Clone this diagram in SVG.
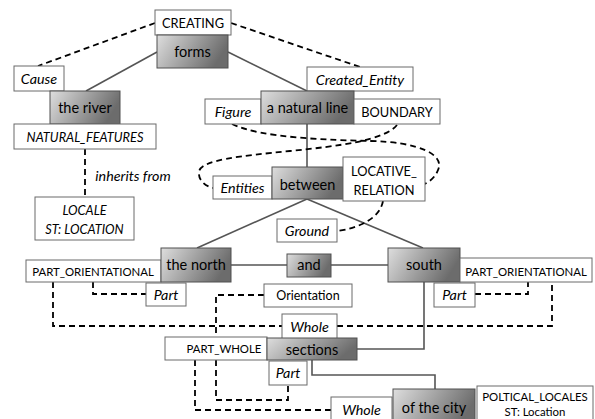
<svg xmlns="http://www.w3.org/2000/svg" width="595" height="419" viewBox="0 0 595 419">
<defs>
<linearGradient id="gr" x1="0" y1="0" x2="1" y2="0.3">
<stop offset="0" stop-color="#dedede"/>
<stop offset="1" stop-color="#6c6c6c"/>
</linearGradient>
</defs>
<style>
.w{fill:#fff;stroke:#6a6a6a;stroke-width:1}
.g{fill:url(#gr);stroke:#505050;stroke-width:1}
.s{fill:none;stroke:#555;stroke-width:1.6}
.d{fill:none;stroke:#000;stroke-width:1.8;stroke-dasharray:6,4}
text{font-family:Lato,"Open Sans","Liberation Sans",sans-serif;font-size:13.5px;fill:#000;text-anchor:middle}
.i{font-style:italic;font-size:14.3px}
.c{font-size:12.8px}
.sm{font-size:12.5px}
.sc{font-size:11.4px}
.n{font-size:14.5px}
</style>
<rect width="595" height="419" fill="#fff"/>
<g id="connectors">
<line class="s" x1="157" y1="52" x2="86" y2="91"/>
<line class="s" x1="228" y1="52" x2="307" y2="91"/>
<line class="s" x1="307" y1="124" x2="307" y2="167"/>
<line class="s" x1="307" y1="199" x2="197" y2="248"/>
<line class="s" x1="307" y1="199" x2="423" y2="248"/>
<line class="s" x1="231" y1="265" x2="287" y2="265"/>
<line class="s" x1="331" y1="265" x2="388" y2="265"/>
<polyline class="s" points="424,282 424,349 357,349"/>
<polyline class="s" points="312,360 312,375 435,375 435,389"/>
<line class="d" x1="155" y1="23" x2="38" y2="66"/>
<line class="d" x1="231" y1="23" x2="360" y2="67"/>
<line class="d" x1="85" y1="149" x2="85" y2="197"/>
<path class="d" d="M232,124 C260,138 330,140 370,141 C420,142 445,155 438,170 C435,178 428,183 424,184"/>
<path class="d" d="M397,125 C385,140 340,146 290,151 C240,156 200,160 199,172 C198,180 205,186 213,188"/>
<path class="d" d="M383,201 C380,218 360,228 337,231"/>
<polyline class="d" points="93,282 93,294 146,294"/>
<polyline class="d" points="53,282 53,326 282,326"/>
<polyline class="d" points="337,326 552,326 552,282"/>
<polyline class="d" points="475,294 528,294 528,282"/>
<polyline class="d" points="264,295 216,295 216,337"/>
<polyline class="d" points="216,360 216,400 288,400 288,385"/>
<polyline class="d" points="195,360 195,410 331,410"/>
</g>
<g id="creating"><rect class="w" x="155" y="10" width="76" height="25"/><text class="c" x="193" y="28">CREATING</text></g>
<g id="forms"><rect class="g" x="157" y="35" width="71" height="33"/><text class="n" x="192.5" y="57">forms</text></g>
<g id="cause"><rect class="w" x="14" y="66" width="50" height="25"/><text class="i" x="39" y="84">Cause</text></g>
<g id="river"><rect class="g" x="50" y="91" width="70" height="33"/><text class="n" x="85" y="113">the river</text></g>
<g id="natural-features"><rect class="w" x="14" y="124" width="142" height="25"/><text class="i c" x="85" y="142">NATURAL_FEATURES</text></g>
<text class="i" x="133" y="181">inherits from</text>
<g id="locale"><rect class="w" x="35" y="197" width="99" height="43"/><text class="i c" x="84.5" y="215">LOCALE</text><text class="i c" x="84.5" y="234">ST: LOCATION</text></g>
<g id="created-entity"><rect class="w" x="307" y="67" width="106" height="24"/><text class="i" x="360" y="85">Created_Entity</text></g>
<g id="figure"><rect class="w" x="205" y="99" width="56" height="25"/><text class="i" x="233" y="117">Figure</text></g>
<g id="natural-line"><rect class="g" x="261" y="91" width="93" height="33"/><text class="n" x="307.5" y="113">a natural line</text></g>
<g id="boundary"><rect class="w" x="354" y="99" width="86" height="25"/><text class="c" x="397" y="117">BOUNDARY</text></g>
<g id="entities"><rect class="w" x="213" y="176" width="59" height="23"/><text class="i" x="242.5" y="193">Entities</text></g>
<g id="between"><rect class="g" x="272" y="167" width="71" height="32"/><text class="n" x="307.5" y="190">between</text></g>
<g id="locative-relation"><rect class="w" x="343" y="157" width="82" height="44"/><text class="c" x="384" y="176">LOCATIVE_</text><text class="c" x="384" y="195">RELATION</text></g>
<g id="ground"><rect class="w" x="277" y="219" width="60" height="23"/><text class="i" x="307" y="236">Ground</text></g>
<g id="po-left"><rect class="w" x="26" y="260" width="135" height="22"/><text class="sc" x="93" y="276">PART_ORIENTATIONAL</text></g>
<g id="north"><rect class="g" x="161" y="248" width="70" height="34"/><text class="n" x="196" y="270">the north</text></g>
<g id="and"><rect class="g" x="287" y="254" width="44" height="23"/><text class="n" x="309" y="270">and</text></g>
<g id="south"><rect class="g" x="388" y="248" width="72" height="34"/><text class="n" x="424" y="270">south</text></g>
<g id="po-right"><rect class="w" x="460" y="258" width="132" height="24"/><text class="sc" x="526" y="276">PART_ORIENTATIONAL</text></g>
<g id="part-left"><rect class="w" x="146" y="283" width="40" height="23"/><text class="i" x="166" y="300">Part</text></g>
<g id="orientation"><rect class="w" x="264" y="284" width="88" height="23"/><text class="sm" x="308" y="300">Orientation</text></g>
<g id="part-right"><rect class="w" x="434" y="283" width="41" height="24"/><text class="i" x="454.5" y="300">Part</text></g>
<g id="whole-mid"><rect class="w" x="282" y="314" width="55" height="25"/><text class="i" x="309.5" y="332">Whole</text></g>
<g id="part-whole"><rect class="w" x="165" y="337" width="102" height="23"/><text class="sc" x="224" y="353">PART_WHOLE</text></g>
<g id="sections"><rect class="g" x="267" y="338" width="90" height="22"/><text class="n" x="312" y="355">sections</text></g>
<g id="part-sec"><rect class="w" x="269" y="361" width="38" height="24"/><text class="i" x="288" y="378">Part</text></g>
<g id="whole-bottom"><rect class="w" x="331" y="397" width="61" height="30"/><text class="i" x="361.5" y="415">Whole</text></g>
<g id="city"><rect class="g" x="393" y="389" width="82" height="38"/><text class="n" x="434" y="413">of the city</text></g>
<g id="political-locales"><rect class="w" x="477" y="386" width="116" height="40"/><text class="sc" x="535" y="401">POLTICAL_LOCALES</text><text class="sc" x="535" y="416">ST: Location</text></g>
</svg>
